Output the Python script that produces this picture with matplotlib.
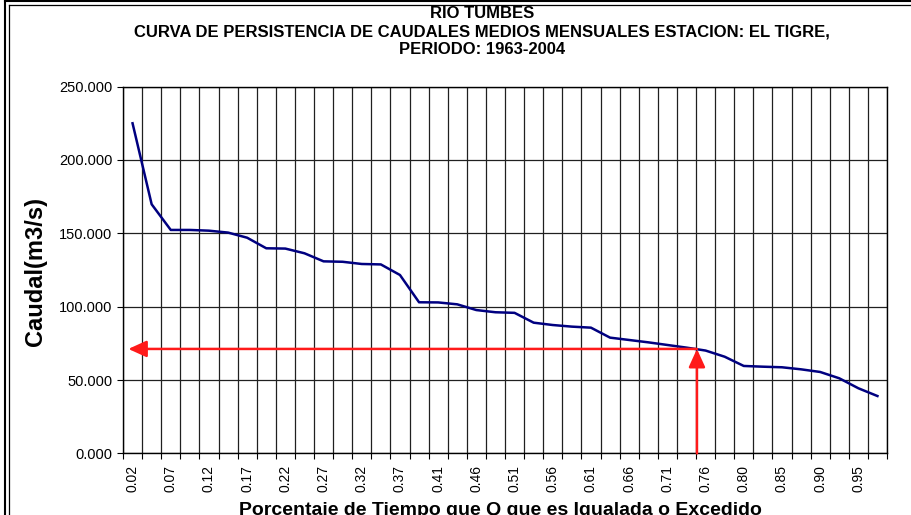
import numpy as np
import matplotlib
matplotlib.use("Agg")
import matplotlib.pyplot as plt
from matplotlib.ticker import FuncFormatter

# persistence curve, sorted monthly mean discharge (m3/s)
n_points = 40
prob_labels = ["%.2f" % (m / (n_points + 1)) for m in range(1, n_points + 1)]
caudal = [225.0, 169.8, 152.3, 152.3, 151.8, 150.5, 147.0, 139.8, 139.6, 136.4,
          130.9, 130.6, 129.1, 128.8, 121.6, 103.0, 102.9, 101.6, 97.7, 96.2,
          95.8, 89.1, 87.5, 86.4, 85.7, 78.9, 77.3, 75.7, 73.9, 72.1,
          70.1, 65.9, 59.6, 59.1, 58.7, 57.3, 55.5, 51.2, 44.4, 39.1]
q_ref = 71.2       # caudal read at the red arrow
p_ref_pos = 29.55  # category position of the red vertical arrow

plt.rcParams['font.family'] = ['Liberation Sans', 'DejaVu Sans']

fig = plt.figure(figsize=(9.11, 5.15), dpi=100)
ax = fig.add_axes([123 / 911, 1 - 453.4 / 515, 764 / 911, (453.4 - 86.6) / 515])

x = np.arange(n_points)
ax.plot(x, caudal, color='#000080', lw=1.8, zorder=3)

ax.set_xlim(-0.5, n_points - 0.5)
ax.set_ylim(0, 250)

# category ticks: labels at every other category, marks/grid between categories
ax.set_xticks(x[::2])
ax.set_xticklabels(prob_labels[::2], rotation=90, fontsize=10)
ax.set_xticks(np.arange(n_points + 1) - 0.5, minor=True)
ax.tick_params(axis='x', which='major', length=0, pad=8.5)
ax.tick_params(axis='x', which='minor', length=4, direction='out', width=0.8)
ax.grid(True, axis='x', which='minor', color='#202020', lw=0.9)

ax.set_yticks(np.arange(0, 251, 50))
ax.yaxis.set_major_formatter(FuncFormatter(lambda v, p: "%.3f" % v))
ax.tick_params(axis='y', length=4, direction='out', pad=3.5, labelsize=10.5, width=0.8)
ax.grid(True, axis='y', which='major', color='#202020', lw=0.9)
ax.set_axisbelow(True)

for s in ax.spines.values():
    s.set_color('black')
    s.set_linewidth(1.0)

# red reading arrows
arrow_style = '-|>,head_length=1.1,head_width=0.5'
ax.annotate('', xy=(-0.22, q_ref), xytext=(p_ref_pos, q_ref),
            arrowprops=dict(arrowstyle=arrow_style, color='#ff1a1a', lw=1.8,
                            shrinkA=0, shrinkB=0),
            zorder=4)
ax.annotate('', xy=(p_ref_pos, q_ref), xytext=(p_ref_pos, 0),
            arrowprops=dict(arrowstyle=arrow_style, color='#ff1a1a', lw=1.8,
                            shrinkA=0, shrinkB=0),
            zorder=4, annotation_clip=False)

# titles
title_lines = ["RIO TUMBES",
               "CURVA DE PERSISTENCIA DE CAUDALES MEDIOS MENSUALES ESTACION: EL TIGRE,",
               "PERIODO: 1963-2004"]
for i, t in enumerate(title_lines):
    fig.text(482 / 911, 1 - (14 + 18 * i) / 515, t, ha='center', va='center',
             fontsize=12, fontweight='bold')

fig.text(36 / 911, 1 - 271 / 515, "Caudal(m3/s)", rotation=90, ha='center',
         va='center', fontsize=17, fontweight='bold')
fig.text(500 / 911, 0.0, "Porcentaje de Tiempo que Q que es Igualada o Excedido",
         ha='center', va='baseline', fontsize=14, fontweight='bold')

# double frame of the chart area (left and top edges)
def frame_line(xs, ys, lw):
    fig.add_artist(plt.Line2D([v / 911 for v in xs], [1 - v / 515 for v in ys],
                              transform=fig.transFigure, color='black', lw=lw))

frame_line([5, 5], [515, 1.2], 1.5)
frame_line([5, 911], [1.2, 1.2], 1.5)
frame_line([9, 9], [515, 4.5], 0.9)
frame_line([9, 911], [4.5, 4.5], 0.9)

fig.savefig("out.png", dpi=100)
